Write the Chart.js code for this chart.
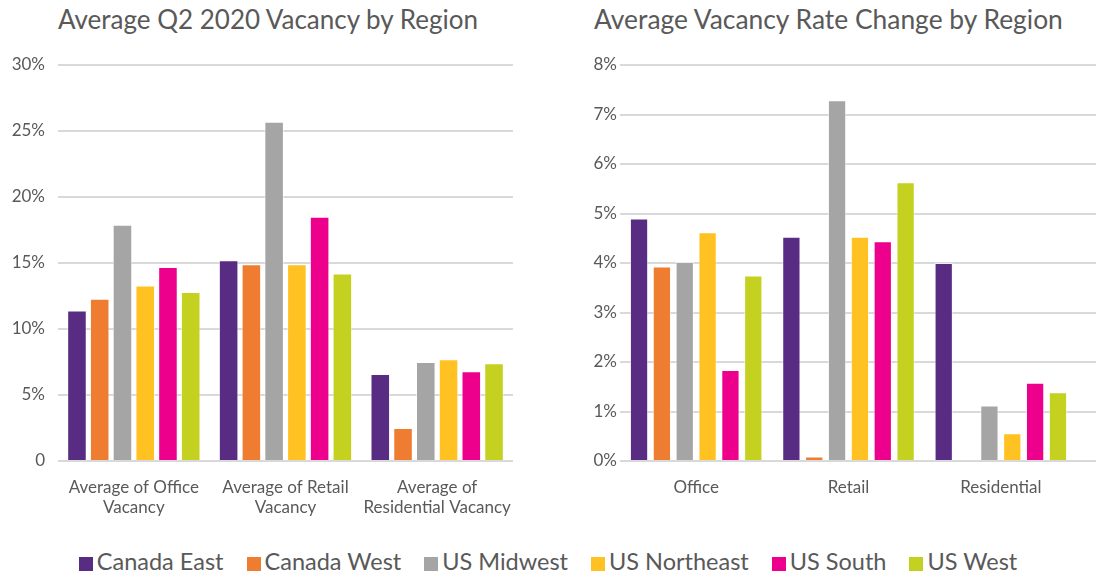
<!DOCTYPE html>
<html>
<head>
<meta charset="utf-8">
<script src="https://cdn.jsdelivr.net/npm/chart.js@4.4.1/dist/chart.umd.min.js"></script>
<style>
  html, body { margin: 0; padding: 0; background: #fff; }
  #page { position: relative; width: 1096px; height: 573px; overflow: hidden; font-family: Lato, "Open Sans", sans-serif; color: #595959; }
  .title { position: absolute; top: 3px; font-size: 26px; line-height: 32px; white-space: nowrap; }
  .box { position: absolute; top: 0; height: 530px; }
  #legend { position: absolute; left: 0; width: 1096px; top: 546px; display: flex; justify-content: center; gap: 23px; font-size: 23.5px; line-height: 30px; }
  #legend span.sw { display: inline-block; width: 14px; height: 14px; margin-right: 4px; vertical-align: -1px; }
</style>
</head>
<body>
<div id="page">
  <div class="title" style="left:58px">Average Q2 2020 Vacancy by Region</div>
  <div class="title" style="left:594px;font-size:26.4px">Average Vacancy Rate Change by Region</div>
  <div class="box" style="left:0;width:520px"><canvas id="vacancyChart"></canvas></div>
  <div class="box" style="left:560px;width:536px"><canvas id="changeChart"></canvas></div>
  <div id="legend"></div>
</div>
<script>
// regions (series) and colours
const regions = ["Canada East", "Canada West", "US Midwest", "US Northeast", "US South", "US West"];
const regionColors = ["#582c83", "#ee7d31", "#a5a5a5", "#ffc222", "#ec008c", "#c4d121"];

// left chart: average Q2 2020 vacancy (%)
const vacancyCategories = [["Average of Office", "Vacancy"], ["Average of Retail", "Vacancy"], ["Average of", "Residential Vacancy"]];
const vacancyOffice      = [11.4, 12.3, 17.9, 13.3, 14.7, 12.8];
const vacancyRetail      = [15.2, 14.9, 25.7, 14.9, 18.5, 14.2];
const vacancyResidential = [6.6, 2.5, 7.5, 7.7, 6.8, 7.4];
const vacancyTicks = ["0", "5%", "10%", "15%", "20%", "25%", "30%"];

// right chart: average vacancy rate change (%)
const changeCategories = ["Office", "Retail", "Residential"];
const changeOffice      = [4.9, 3.93, 4.02, 4.62, 1.84, 3.75];
const changeRetail      = [4.53, 0.09, 7.29, 4.53, 4.44, 5.63];
const changeResidential = [4.0, 0, 1.12, 0.56, 1.58, 1.39];
const changeTicks = ["0%", "1%", "2%", "3%", "4%", "5%", "6%", "7%", "8%"];

const textColor = "#595959";
const gridColor = "#d9d9d9";
const fontFamily = "Lato, 'Open Sans', sans-serif";

// build one dataset per region from the per-category arrays
function buildDatasets(groups, barPct) {
  return regions.map((name, i) => ({
    label: name,
    data: groups.map(g => g[i]),
    backgroundColor: regionColors[i],
    borderColor: "rgba(255,255,255,0.55)",
    borderWidth: 1,
    barPercentage: barPct,
    categoryPercentage: 0.9
  }));
}

// carries the horizontal gridlines on past the plot area to the canvas edge
const extendGrid = {
  id: "extendGrid",
  beforeDatasetsDraw(chart, args, opts) {
    if (!opts.enabled) return;
    const ctx = chart.ctx, y = chart.scales.y, area = chart.chartArea;
    ctx.save();
    ctx.strokeStyle = gridColor;
    ctx.lineWidth = 2;
    y.ticks.forEach(t => {
      const py = Math.round(y.getPixelForValue(t.value));
      ctx.beginPath();
      ctx.moveTo(area.right, py);
      ctx.lineTo(chart.width, py);
      ctx.stroke();
    });
    ctx.restore();
  }
};

function makeChart(id, labels, groups, max, step, tickLabels, yWidth, padRight, extend, barPct) {
  return new Chart(document.getElementById(id).getContext("2d"), {
    type: "bar",
    data: { labels: labels, datasets: buildDatasets(groups, barPct) },
    plugins: [extendGrid],
    options: {
      responsive: true,
      maintainAspectRatio: false,
      animation: false,
      layout: { padding: { top: 65, right: padRight, bottom: 0, left: 0 } },
      plugins: {
        legend: { display: false },
        tooltip: { enabled: false },
        extendGrid: { enabled: extend }
      },
      scales: {
        x: {
          grid: { display: false },
          border: { display: false },
          ticks: { color: textColor, font: { family: fontFamily, size: 17 }, padding: 8, maxRotation: 0, autoSkip: false },
          afterFit: s => { s.height = 69; }
        },
        y: {
          min: 0, max: max,
          grid: { color: gridColor, lineWidth: 2, drawTicks: false },
          border: { display: false },
          ticks: {
            stepSize: step,
            color: textColor,
            font: { family: fontFamily, size: 17 },
            padding: yWidth > 59 ? 3 : 13,
            callback: (v, i) => tickLabels[i]
          },
          afterFit: s => { s.width = yWidth; }
        }
      }
    }
  });
}

makeChart("vacancyChart", vacancyCategories, [vacancyOffice, vacancyRetail, vacancyResidential], 30, 5, vacancyTicks, 58, 7, false, 0.86);
makeChart("changeChart", changeCategories, [changeOffice, changeRetail, changeResidential], 8, 1, changeTicks, 60, 19, true, 0.8);

// shared legend
const legend = document.getElementById("legend");
regions.forEach((name, i) => {
  const item = document.createElement("div");
  item.innerHTML = '<span class="sw" style="background:' + regionColors[i] + '"></span>' + name;
  legend.appendChild(item);
});
</script>
</body>
</html>
